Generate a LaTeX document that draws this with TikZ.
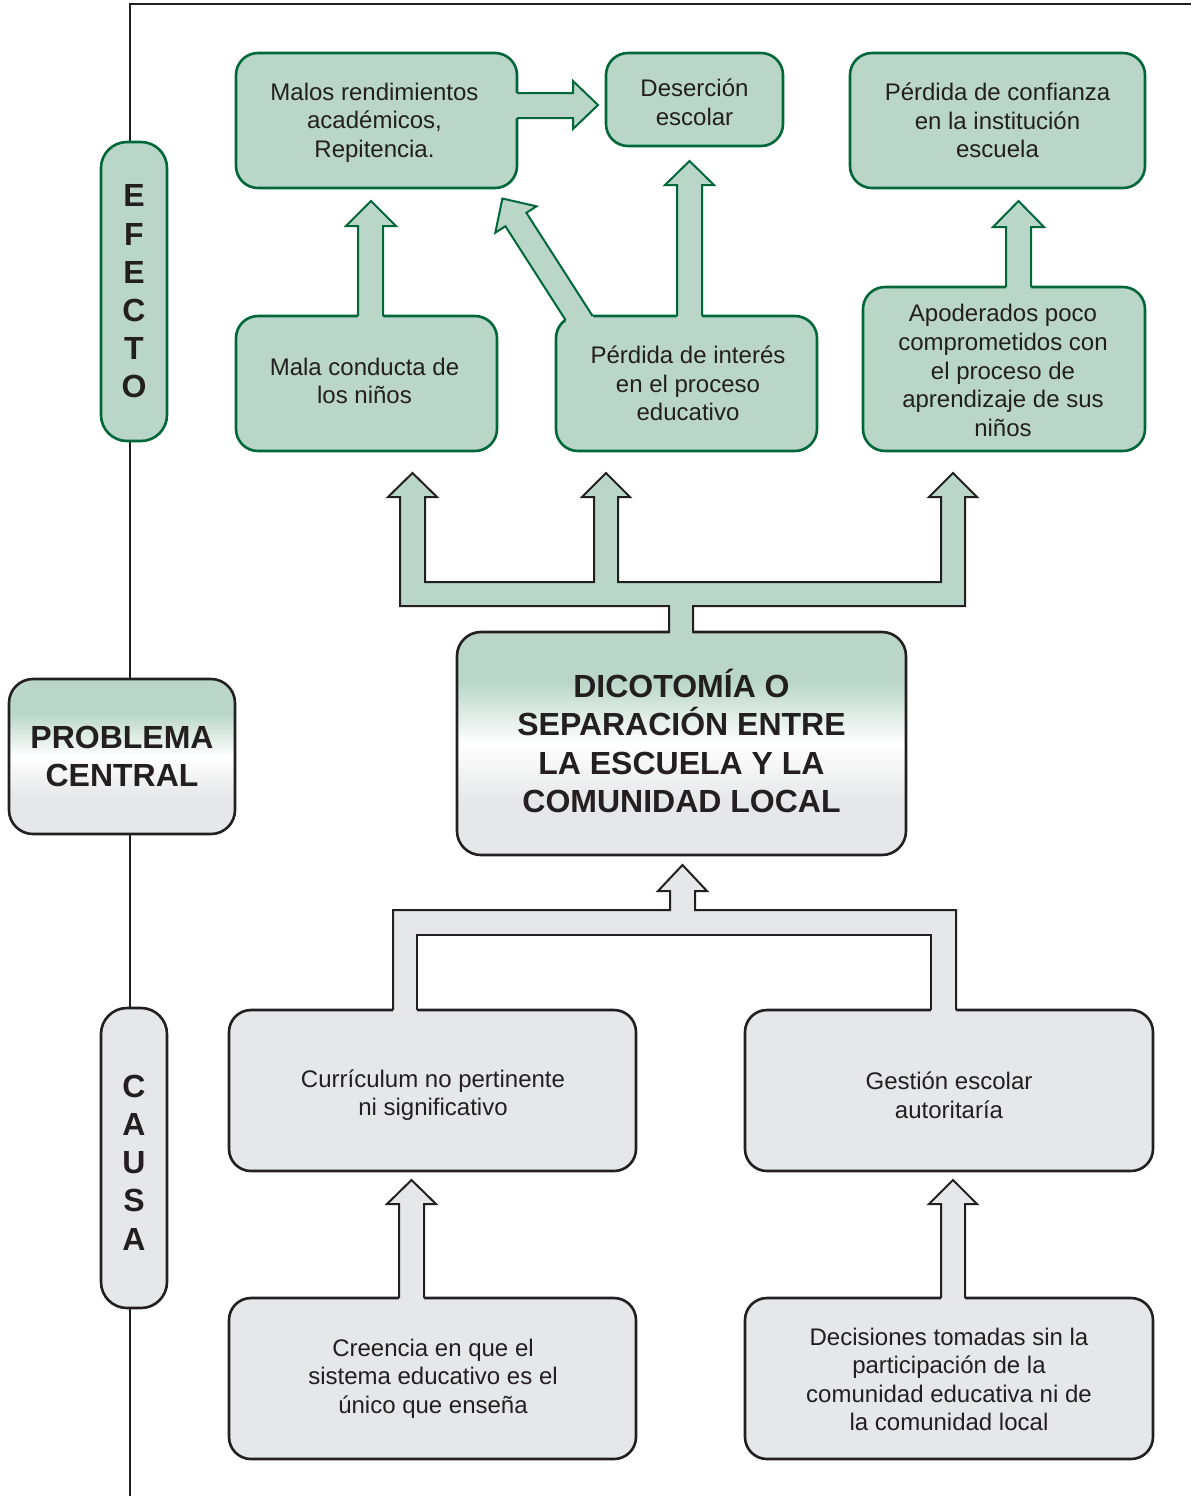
\documentclass[tikz,border=0pt]{standalone}
\usepackage{fontspec}
\setmainfont{Liberation Sans}
\definecolor{cgreen}{RGB}{185,214,201}
\definecolor{cdkgreen}{RGB}{0,104,56}
\definecolor{cgray}{RGB}{230,231,232}
\definecolor{cblack}{RGB}{35,31,32}
\pgfdeclareverticalshading{gwg}{100bp}{color(0bp)=(cgray); color(25bp)=(cgray); color(37bp)=(cgray); color(50bp)=(white); color(64bp)=(cgreen); color(75bp)=(cgreen); color(100bp)=(cgreen)}
\begin{document}
\begin{tikzpicture}[x=0.5pt,y=-0.5pt,
  txt/.style={font=\fontsize{12}{14.3}\selectfont, text=cblack, align=center, inner sep=0pt},
  bigtxt/.style={font=\fontsize{16}{19.1}\selectfont\bfseries, text=cblack, align=center, inner sep=0pt},
  gbox/.style={draw=cdkgreen, line width=1.3pt, fill=cgreen, rounded corners=11pt, inner sep=0pt},
  ybox/.style={draw=cblack, line width=1.3pt, fill=cgray, rounded corners=11pt, inner sep=0pt},
  gradbox/.style={draw=cblack, line width=1.3pt, rounded corners=12pt, shade, shading=gwg, inner sep=0pt},
  gside/.style={draw=cdkgreen, line width=1.3pt, fill=cgreen, rounded corners=13pt, minimum width=33pt, minimum height=149.5pt, inner sep=0pt},
  yside/.style={draw=cblack, line width=1.3pt, fill=cgray, rounded corners=13pt, minimum width=33pt, minimum height=150pt, inner sep=0pt},
  frame/.style={draw=cblack, line width=1.2pt},
  gline/.style={draw=cdkgreen, line width=1pt, line join=miter},
  tline/.style={draw=cblack, line width=1pt, line join=miter},
]
\useasboundingbox (0,0) rectangle (1191,1496);

% frame
\coordinate (fb) at (130,1496);
\coordinate (fc) at (130,4);
\coordinate (fr) at (1191,4);
\draw[frame] (fb) -- (fc) -- (fr);

% side labels
\node[gside] (efecto) at (134,291.5) {};
\node[bigtxt] (efectot) at (134,291.5) {E\\F\\E\\C\\T\\O};
\node[gradbox, minimum width=113pt, minimum height=77.5pt] (problema) at (122,756.5) {};
\node[bigtxt] (problemat) at (122,756.5) {PROBLEMA\\CENTRAL};
\node[yside] (causa) at (134,1158) {};
\node[bigtxt] (causat) at (134,1162.5) {C\\A\\U\\S\\A};

% effect boxes
\node[gbox, minimum width=140.5pt, minimum height=67.5pt] (b1) at (376.5,120.5) {};
\node[txt] (b1t) at (374.5,122.5) {Malos rendimientos\\académicos,\\Repitencia.};
\node[gbox, minimum width=88.5pt, minimum height=46.5pt] (b2) at (694.5,99.5) {};
\node[txt] (b2t) at (694.5,102.5) {Deserción\\escolar};
\node[gbox, minimum width=147.5pt, minimum height=67.5pt] (b3) at (997.5,120.5) {};
\node[txt] (b3t) at (997.5,120.5) {Pérdida de confianza\\en la institución\\escuela};
\node[gbox, minimum width=130.5pt, minimum height=67.5pt] (b4) at (366.5,383.5) {};
\node[txt] (b4t) at (364.5,381) {Mala conducta de\\los niños};
\node[gbox, minimum width=130.5pt, minimum height=67.5pt] (b5) at (686.5,383.5) {};
\node[txt] (b5t) at (688,383.5) {Pérdida de interés\\en el proceso\\educativo};
\node[gbox, minimum width=141pt, minimum height=82pt] (b6) at (1004,369) {};
\node[txt] (b6t) at (1003,370.5) {Apoderados poco\\comprometidos con\\el proceso de\\aprendizaje de sus\\niños};

% central problem
\node[gradbox, minimum width=224.5pt, minimum height=111.5pt] (central) at (681.5,743.5) {};
\node[bigtxt] (centralt) at (681.5,741) {DICOTOMÍA O\\SEPARACIÓN ENTRE\\LA ESCUELA Y LA\\COMUNIDAD LOCAL};

% cause boxes
\node[ybox, minimum width=203.5pt, minimum height=80.5pt] (c1) at (432.5,1090.5) {};
\node[txt] (c1t) at (433,1095) {Currículum no pertinente\\ni significativo};
\node[ybox, minimum width=204pt, minimum height=80.5pt] (c2) at (949,1090.5) {};
\node[txt] (c2t) at (949,1095) {Gestión escolar\\autoritaría};
\node[ybox, minimum width=203.5pt, minimum height=80.5pt] (c3) at (432.5,1378.5) {};
\node[txt] (c3t) at (433,1378.5) {Creencia en que el\\sistema educativo es el\\único que enseña};
\node[ybox, minimum width=204pt, minimum height=80.5pt] (c4) at (949,1378.5) {};
\node[txt] (c4t) at (949,1379.5) {Decisiones tomadas sin la\\participación de la\\comunidad educativa ni de\\la comunidad local};

% arrow b1 -> b2
\fill[cgreen] (514,93) -- (573,93) -- (573,81) -- (598,105) -- (573,129) -- (573,118) -- (514,118) -- cycle;
\draw[gline] (517,93) -- (573,93) -- (573,81) -- (598,105) -- (573,129) -- (573,118) -- (517,118);

% arrow b4 -> b1
\fill[cgreen] (358,319) -- (358,226) -- (346,226) -- (371,201) -- (396,226) -- (383,226) -- (383,319) -- cycle;
\draw[gline] (358,316) -- (358,226) -- (346,226) -- (371,201) -- (396,226) -- (383,226) -- (383,316);

% arrow b5 -> b2
\fill[cgreen] (677,319) -- (677,185) -- (665,185) -- (689.5,161) -- (714,185) -- (702,185) -- (702,319) -- cycle;
\draw[gline] (677,316) -- (677,185) -- (665,185) -- (689.5,161) -- (714,185) -- (702,185) -- (702,316);

% arrow b6 -> b3
\fill[cgreen] (1006,290) -- (1006,227) -- (993,227) -- (1018.5,201) -- (1044,227) -- (1031,227) -- (1031,290) -- cycle;
\draw[gline] (1006,287) -- (1006,227) -- (993,227) -- (1018.5,201) -- (1044,227) -- (1031,227) -- (1031,287);

% diagonal arrow b5 -> b1
\fill[cgreen] (569.1,325.5) -- (505.4,226.2) -- (495.3,232.7) -- (502.4,198.5) -- (536.5,206.3) -- (526.4,212.8) -- (595.1,320) -- cycle;
\draw[gline] (565.5,319.9) -- (505.4,226.2) -- (495.3,232.7) -- (502.4,198.5) -- (536.5,206.3) -- (526.4,212.8) -- (592.6,316);

% tree arrow central -> effects
\fill[cgreen] (669,636) -- (669,606) -- (400,606) -- (400,497) -- (388,497) -- (412.5,473) -- (437,497) -- (425,497) -- (425,582) -- (594,582) -- (594,497) -- (582,497) -- (606,473) -- (630,497) -- (618,497) -- (618,582) -- (941,582) -- (941,497) -- (929,497) -- (953,473) -- (977,497) -- (965,497) -- (965,606) -- (693,606) -- (693,636) -- cycle;
\draw[tline] (669,633) -- (669,606) -- (400,606) -- (400,497) -- (388,497) -- (412.5,473) -- (437,497) -- (425,497) -- (425,582) -- (594,582) -- (594,497) -- (582,497) -- (606,473) -- (630,497) -- (618,497) -- (618,582) -- (941,582) -- (941,497) -- (929,497) -- (953,473) -- (977,497) -- (965,497) -- (965,606) -- (693,606) -- (693,633);

% tree arrow causes -> central
\fill[cgray] (393,1013) -- (393,910) -- (670,910) -- (670,891) -- (658,891) -- (682.5,865) -- (707,891) -- (695,891) -- (695,910) -- (956,910) -- (956,1013) -- (931,1013) -- (931,935) -- (417,935) -- (417,1013) -- cycle;
\draw[tline] (393,1010) -- (393,910) -- (670,910) -- (670,891) -- (658,891) -- (682.5,865) -- (707,891) -- (695,891) -- (695,910) -- (956,910) -- (956,1010);
\draw[tline] (931,1010) -- (931,935) -- (417,935) -- (417,1010);

% arrow c3 -> c1
\fill[cgray] (399,1301) -- (399,1204) -- (387,1204) -- (411.5,1180) -- (436,1204) -- (424,1204) -- (424,1301) -- cycle;
\draw[tline] (399,1298) -- (399,1204) -- (387,1204) -- (411.5,1180) -- (436,1204) -- (424,1204) -- (424,1298);

% arrow c4 -> c2
\fill[cgray] (941,1301) -- (941,1204) -- (929,1204) -- (953,1180) -- (977,1204) -- (965,1204) -- (965,1301) -- cycle;
\draw[tline] (941,1298) -- (941,1204) -- (929,1204) -- (953,1180) -- (977,1204) -- (965,1204) -- (965,1298);
\end{tikzpicture}
\end{document}
